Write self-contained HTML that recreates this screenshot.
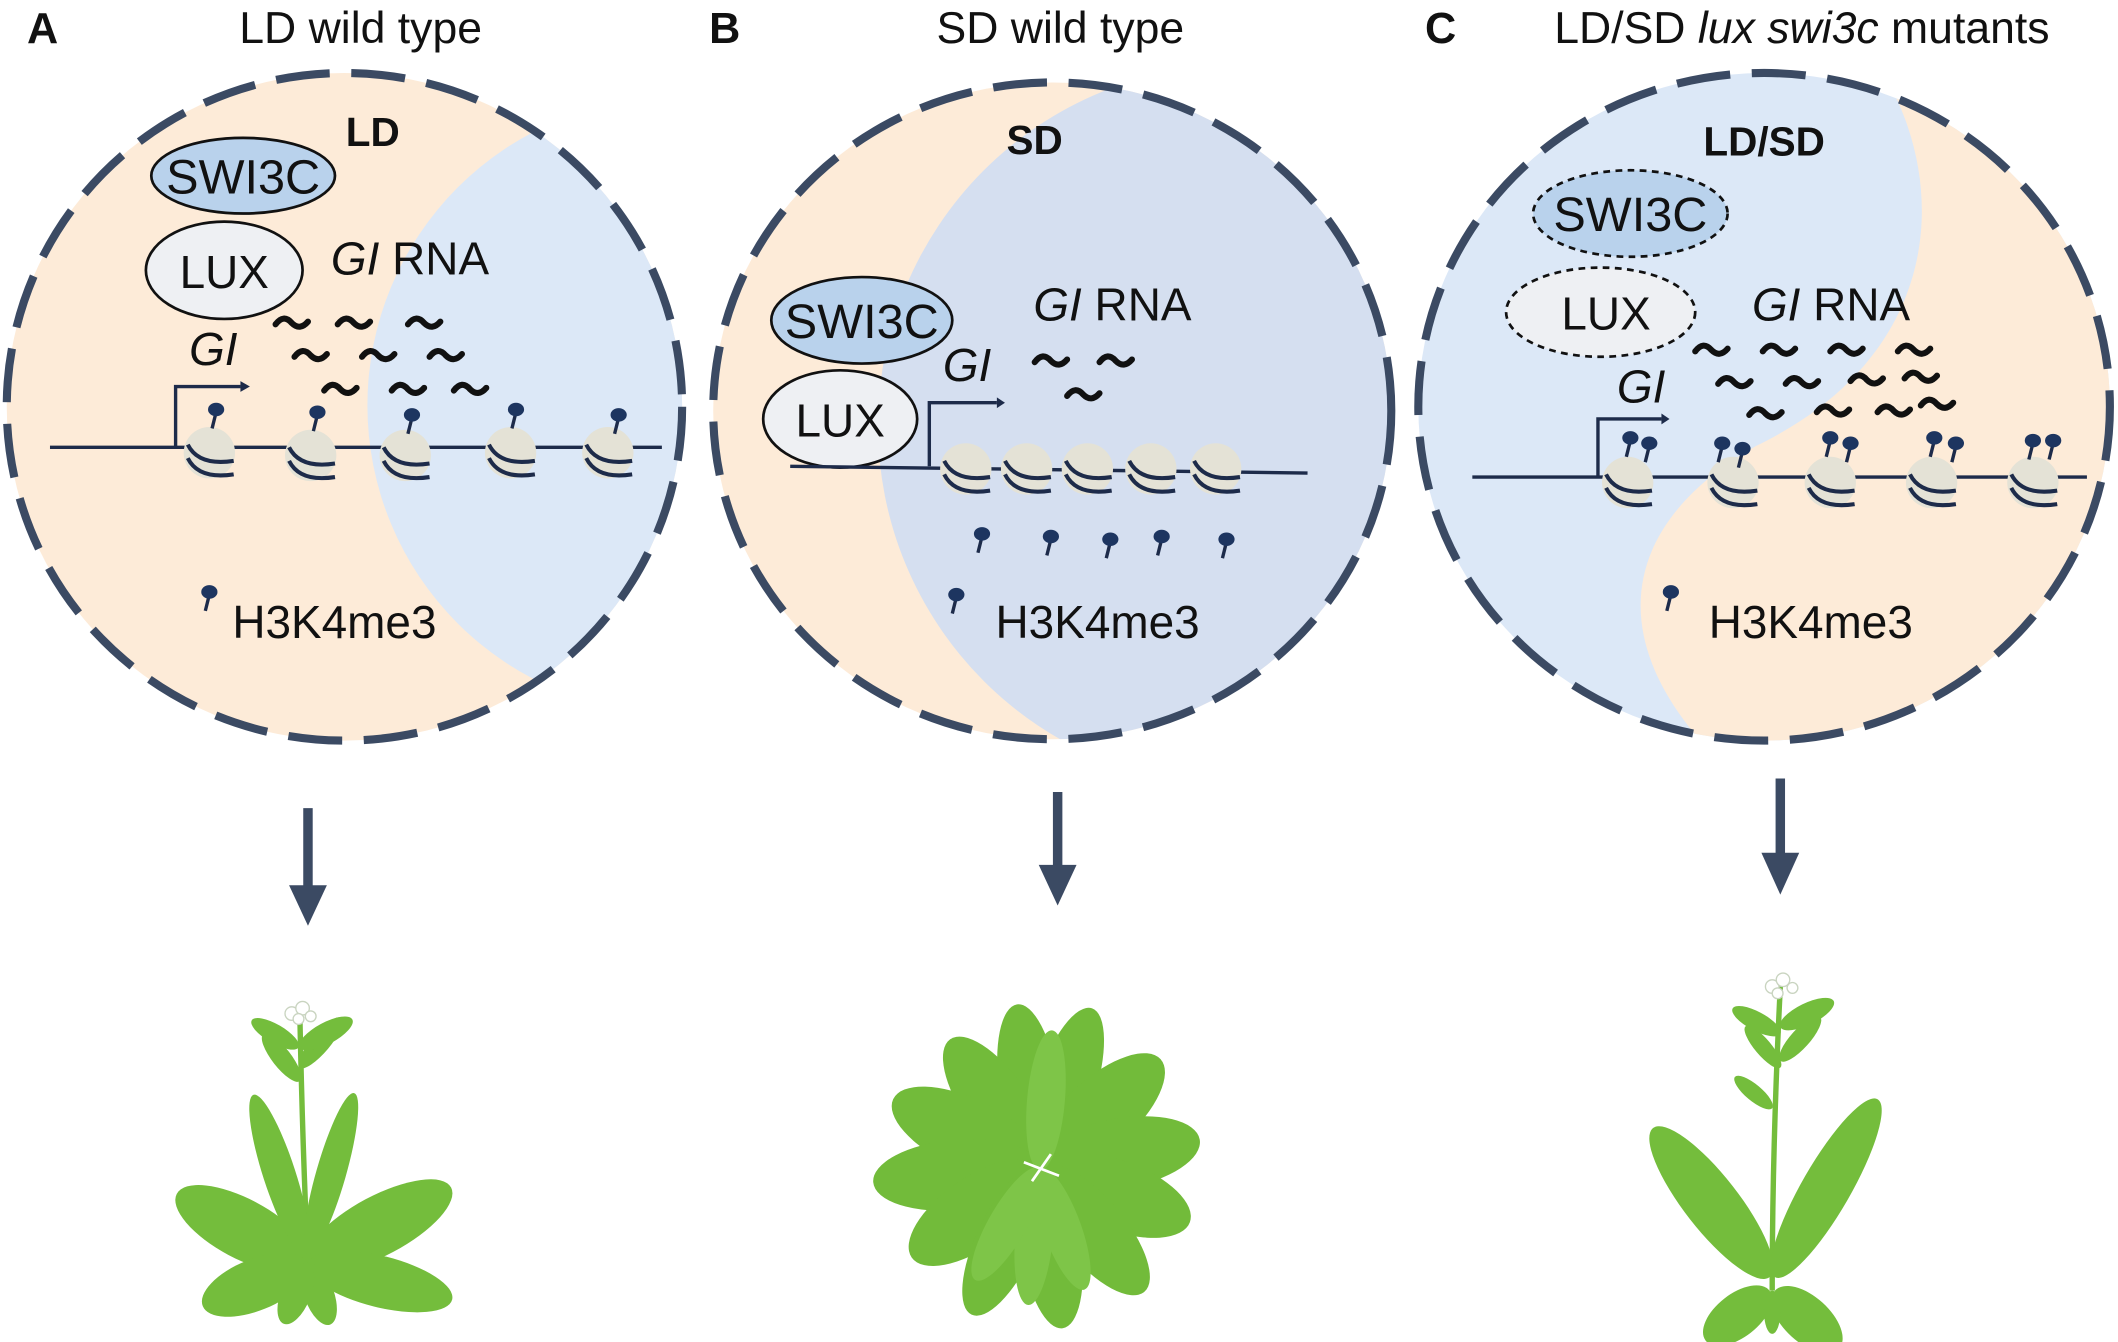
<!DOCTYPE html>
<html><head><meta charset="utf-8"><style>
html,body{margin:0;padding:0;background:#fff;overflow:hidden}
svg{display:block}
text{font-family:"Liberation Sans",Arial,sans-serif;fill:#111}
</style></head><body>
<svg width="2118" height="1342" viewBox="0 0 1568 993" preserveAspectRatio="none" xmlns="http://www.w3.org/2000/svg">
<defs>
<clipPath id="cA"><ellipse cx="255" cy="301" rx="250" ry="247"/></clipPath>
<clipPath id="cB"><ellipse cx="779" cy="304" rx="251" ry="243"/></clipPath>
<clipPath id="cC"><ellipse cx="1306" cy="301" rx="256" ry="247"/></clipPath>
<g id="nuc"><circle r="19" fill="#e4e2d6"/><path d="M-16,-6 Q-8,10 18,6 M-16,4 Q-8,20 18,16" stroke="#1d2b4a" stroke-width="3" fill="none"/></g>
<g id="pin"><line x1="0" y1="0" x2="-3" y2="12" stroke="#1d2b4a" stroke-width="2.5"/><ellipse cx="0" cy="-2" rx="6" ry="5" fill="#1d3560"/></g>
<path id="sq" d="M0,0 q6,-8 12,-1 q6,6 12,-1" stroke="#111" stroke-width="4.5" fill="none" stroke-linecap="round"/>
</defs>

<!-- Panel A -->
<g clip-path="url(#cA)">
<rect x="0" y="40" width="520" height="520" fill="#fdebd8"/>
<circle cx="500" cy="300" r="228" fill="#dce8f7"/>
</g>
<ellipse cx="255" cy="301" rx="250" ry="247" fill="none" stroke="#3b4a63" stroke-width="6" stroke-dasharray="40 16"/>
<text x="20" y="32" font-size="32" font-weight="bold">A</text>
<text x="267" y="32" font-size="33" text-anchor="middle">LD wild type</text>
<text x="276" y="108" font-size="30" font-weight="bold" text-anchor="middle">LD</text>
<ellipse cx="180" cy="130" rx="68" ry="28" fill="#b9d2ec" stroke="#111" stroke-width="2"/>
<text x="180" y="143" font-size="36" text-anchor="middle">SWI3C</text>
<ellipse cx="166" cy="200" rx="58" ry="36" fill="#eef0f3" stroke="#111" stroke-width="2"/>
<text x="166" y="213" font-size="34" text-anchor="middle">LUX</text>
<text x="245" y="203" font-size="34"><tspan font-style="italic">GI</tspan> RNA</text>
<text x="140" y="270" font-size="34" font-style="italic">GI</text>
<path d="M37,331 L490,331" stroke="#1d2b4a" stroke-width="2.5"/>
<path d="M130,331 V286 H178" stroke="#1d2b4a" stroke-width="2.5" fill="none"/><path d="M178,282 l7,4 l-7,4z" fill="#1d2b4a"/>
<use href="#nuc" x="155" y="335"/><use href="#nuc" x="230" y="337"/><use href="#nuc" x="300" y="337"/><use href="#nuc" x="378" y="335"/><use href="#nuc" x="450" y="335"/>
<use href="#pin" x="160" y="305"/><use href="#pin" x="235" y="307"/><use href="#pin" x="305" y="309"/><use href="#pin" x="382" y="305"/><use href="#pin" x="458" y="309"/>
<use href="#sq" x="204" y="240"/><use href="#sq" x="250" y="240"/><use href="#sq" x="302" y="240"/>
<use href="#sq" x="218" y="264"/><use href="#sq" x="268" y="264"/><use href="#sq" x="318" y="264"/>
<use href="#sq" x="240" y="289"/><use href="#sq" x="290" y="289"/><use href="#sq" x="336" y="289"/>
<use href="#pin" x="155" y="440"/>
<text x="172" y="472" font-size="34">H3K4me3</text>
<line x1="228" y1="598" x2="228" y2="660" stroke="#3b4a63" stroke-width="7"/><path d="M214,655 L242,655 L228,685Z" fill="#3b4a63"/>

<!-- Panel B -->
<g clip-path="url(#cB)">
<rect x="520" y="50" width="520" height="510" fill="#fdebd8"/>
<circle cx="917" cy="315" r="267" fill="#d5dff0"/>
</g>
<ellipse cx="779" cy="304" rx="251" ry="243" fill="none" stroke="#3b4a63" stroke-width="6" stroke-dasharray="40 16"/>
<text x="525" y="32" font-size="32" font-weight="bold">B</text>
<text x="785" y="32" font-size="33" text-anchor="middle">SD wild type</text>
<text x="766" y="114" font-size="30" font-weight="bold" text-anchor="middle">SD</text>
<ellipse cx="638" cy="237" rx="67" ry="32" fill="#b9d2ec" stroke="#111" stroke-width="2"/>
<text x="638" y="250" font-size="36" text-anchor="middle">SWI3C</text>
<ellipse cx="622" cy="310" rx="57" ry="36" fill="#eef0f3" stroke="#111" stroke-width="2"/>
<text x="622" y="323" font-size="34" text-anchor="middle">LUX</text>
<text x="765" y="237" font-size="34"><tspan font-style="italic">GI</tspan> RNA</text>
<text x="698" y="282" font-size="34" font-style="italic">GI</text>
<path d="M585,345 L968,350" stroke="#1d2b4a" stroke-width="2.5"/>
<path d="M688,345 V298 H738" stroke="#1d2b4a" stroke-width="2.5" fill="none"/><path d="M738,294 l6,4 l-6,4z" fill="#1d2b4a"/>
<use href="#nuc" x="715" y="347"/><use href="#nuc" x="760" y="347"/><use href="#nuc" x="805" y="347"/><use href="#nuc" x="852" y="347"/><use href="#nuc" x="900" y="347"/>
<use href="#sq" x="766" y="268"/><use href="#sq" x="814" y="268"/><use href="#sq" x="790" y="293"/>
<use href="#pin" x="727" y="397"/><use href="#pin" x="778" y="399"/><use href="#pin" x="822" y="401"/><use href="#pin" x="860" y="399"/><use href="#pin" x="908" y="401"/>
<use href="#pin" x="708" y="442"/>
<text x="737" y="472" font-size="34">H3K4me3</text>
<line x1="783" y1="586" x2="783" y2="645" stroke="#3b4a63" stroke-width="7"/><path d="M769,640 L797,640 L783,670Z" fill="#3b4a63"/>

<!-- Panel C -->
<g clip-path="url(#cC)">
<rect x="1040" y="40" width="540" height="530" fill="#dce8f7"/>
<path d="M1385,40 C1445,125 1445,260 1300,330 C1195,390 1185,480 1280,570 L1600,570 L1600,40 Z" fill="#fdebd8"/>
</g>
<ellipse cx="1306" cy="301" rx="256" ry="247" fill="none" stroke="#3b4a63" stroke-width="6" stroke-dasharray="40 16"/>
<text x="1055" y="32" font-size="32" font-weight="bold">C</text>
<text x="1334" y="32" font-size="33" text-anchor="middle">LD/SD <tspan font-style="italic">lux swi3c</tspan> mutants</text>
<text x="1306" y="115" font-size="30" font-weight="bold" text-anchor="middle">LD/SD</text>
<ellipse cx="1207" cy="158" rx="72" ry="32" fill="#b9d2ec" stroke="#111" stroke-width="2" stroke-dasharray="5 4"/>
<text x="1207" y="171" font-size="36" text-anchor="middle">SWI3C</text>
<ellipse cx="1185" cy="231" rx="70" ry="33" fill="#eef0f3" stroke="#111" stroke-width="2" stroke-dasharray="5 4"/>
<text x="1189" y="244" font-size="34" text-anchor="middle">LUX</text>
<text x="1297" y="237" font-size="34"><tspan font-style="italic">GI</tspan> RNA</text>
<text x="1197" y="298" font-size="34" font-style="italic">GI</text>
<path d="M1090,353 L1545,353" stroke="#1d2b4a" stroke-width="2.5"/>
<path d="M1183,353 V310 H1230" stroke="#1d2b4a" stroke-width="2.5" fill="none"/><path d="M1230,306 l6,4 l-6,4z" fill="#1d2b4a"/>
<use href="#nuc" x="1205" y="357"/><use href="#nuc" x="1283" y="357"/><use href="#nuc" x="1355" y="357"/><use href="#nuc" x="1430" y="357"/><use href="#nuc" x="1505" y="357"/>
<use href="#pin" x="1207" y="326"/><use href="#pin" x="1221" y="330"/><use href="#pin" x="1275" y="330"/><use href="#pin" x="1290" y="334"/><use href="#pin" x="1355" y="326"/><use href="#pin" x="1370" y="330"/><use href="#pin" x="1432" y="326"/><use href="#pin" x="1448" y="330"/><use href="#pin" x="1505" y="328"/><use href="#pin" x="1520" y="328"/>
<use href="#sq" x="1255" y="260"/><use href="#sq" x="1305" y="260"/><use href="#sq" x="1355" y="260"/><use href="#sq" x="1405" y="260"/>
<use href="#sq" x="1272" y="284"/><use href="#sq" x="1322" y="284"/><use href="#sq" x="1370" y="282"/><use href="#sq" x="1410" y="280"/>
<use href="#sq" x="1295" y="307"/><use href="#sq" x="1345" y="305"/><use href="#sq" x="1390" y="305"/><use href="#sq" x="1422" y="300"/>
<use href="#pin" x="1237" y="440"/>
<text x="1265" y="472" font-size="34">H3K4me3</text>
<line x1="1318" y1="576" x2="1318" y2="636" stroke="#3b4a63" stroke-width="7"/><path d="M1304,631 L1332,631 L1318,662Z" fill="#3b4a63"/>

<!-- Plant A -->
<g fill="#74bd3c">
<path d="M228,935 Q224,850 222,752" stroke="#74bd3c" stroke-width="4" fill="none"/>
<ellipse cx="0" cy="-55" rx="22" ry="55" transform="translate(228,935) rotate(-62)"/>
<ellipse cx="0" cy="-42" rx="19" ry="42" transform="translate(228,935) rotate(-112)"/>
<ellipse cx="0" cy="-60" rx="22" ry="60" transform="translate(228,935) rotate(62)"/>
<ellipse cx="0" cy="-55" rx="19" ry="55" transform="translate(228,935) rotate(104)"/>
<ellipse cx="0" cy="-24" rx="11" ry="24" transform="translate(228,935) rotate(160)"/>
<ellipse cx="0" cy="-24" rx="11" ry="24" transform="translate(228,935) rotate(-158)"/>
<ellipse cx="0" cy="-62" rx="12" ry="62" transform="translate(226,928) rotate(-18)"/>
<ellipse cx="0" cy="-62" rx="11" ry="62" transform="translate(228,928) rotate(16)"/>
<ellipse cx="0" cy="-22" rx="7" ry="22" transform="translate(222,800) rotate(-38)"/>
<ellipse cx="0" cy="-24" rx="7" ry="24" transform="translate(222,790) rotate(40)"/>
<ellipse cx="0" cy="-20" rx="7" ry="20" transform="translate(221,775) rotate(-60)"/>
<ellipse cx="0" cy="-22" rx="8" ry="22" transform="translate(222,775) rotate(62)"/>
</g>
<g fill="#fff" stroke="#c9d4c0" stroke-width="1"><circle cx="216" cy="750" r="5"/><circle cx="224" cy="746" r="5"/><circle cx="230" cy="752" r="4"/><circle cx="221" cy="754" r="4"/></g>

<!-- Plant B -->
<g transform="translate(770,864)">
<g fill="#72bb3a">
<ellipse cx="0" cy="-60" rx="22" ry="62" transform="rotate(-8)"/>
<ellipse cx="0" cy="-60" rx="22" ry="64" transform="rotate(18)"/>
<ellipse cx="0" cy="-58" rx="24" ry="58" transform="rotate(-35)"/>
<ellipse cx="0" cy="-60" rx="26" ry="60" transform="rotate(48)"/>
<ellipse cx="0" cy="-60" rx="26" ry="60" transform="rotate(-65)"/>
<ellipse cx="0" cy="-60" rx="26" ry="60" transform="rotate(80)"/>
<ellipse cx="0" cy="-62" rx="26" ry="62" transform="rotate(-95)"/>
<ellipse cx="0" cy="-60" rx="26" ry="58" transform="rotate(110)"/>
<ellipse cx="0" cy="-58" rx="26" ry="58" transform="rotate(-125)"/>
<ellipse cx="0" cy="-60" rx="24" ry="60" transform="rotate(140)"/>
<ellipse cx="0" cy="-60" rx="22" ry="60" transform="rotate(-155)"/>
<ellipse cx="0" cy="-60" rx="22" ry="60" transform="rotate(172)"/>
</g>
<g fill="#7ec548">
<ellipse cx="0" cy="-50" rx="14" ry="52" transform="rotate(5)"/>
<ellipse cx="0" cy="-50" rx="14" ry="52" transform="rotate(185)"/>
<ellipse cx="0" cy="-48" rx="14" ry="48" transform="rotate(-150)"/>
<ellipse cx="0" cy="-48" rx="14" ry="48" transform="rotate(160)"/>
</g>
<path d="M-12,-4 L14,6 M-6,10 L8,-10" stroke="#fff" stroke-width="2"/>
</g>

<!-- Plant C -->
<g fill="#74bd3c">
<path d="M1312,955 Q1312,850 1318,730" stroke="#74bd3c" stroke-width="4" fill="none"/>
<ellipse cx="0" cy="-70" rx="20" ry="70" transform="translate(1310,945) rotate(-38)"/>
<ellipse cx="0" cy="-76" rx="18" ry="76" transform="translate(1314,945) rotate(30)"/>
<ellipse cx="0" cy="-30" rx="16" ry="30" transform="translate(1310,955) rotate(-128)"/>
<ellipse cx="0" cy="-32" rx="17" ry="32" transform="translate(1314,955) rotate(132)"/>
<ellipse cx="0" cy="-16" rx="6" ry="16" transform="translate(1312,955) rotate(180)"/>
<ellipse cx="0" cy="-18" rx="6" ry="18" transform="translate(1312,820) rotate(-50)"/>
<ellipse cx="0" cy="-20" rx="6" ry="20" transform="translate(1318,790) rotate(-40)"/>
<ellipse cx="0" cy="-22" rx="7" ry="22" transform="translate(1318,785) rotate(42)"/>
<ellipse cx="0" cy="-20" rx="7" ry="20" transform="translate(1318,765) rotate(-62)"/>
<ellipse cx="0" cy="-22" rx="8" ry="22" transform="translate(1318,760) rotate(64)"/>
</g>
<g fill="#fff" stroke="#c9d4c0" stroke-width="1"><circle cx="1312" cy="730" r="5"/><circle cx="1320" cy="725" r="5"/><circle cx="1327" cy="731" r="4"/><circle cx="1316" cy="735" r="4"/></g>
</svg>
</body></html>
